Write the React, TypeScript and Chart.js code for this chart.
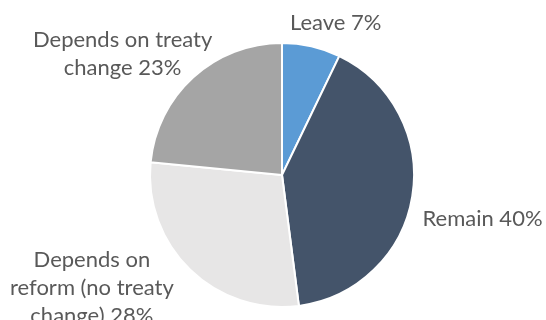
import React, { useEffect, useRef } from "react";
import { Chart, registerables } from "chart.js";

Chart.register(...registerables);

const categories = [
  ["Leave 7%"],
  ["Remain 40%"],
  ["Depends on", "reform (no treaty", "change) 28%"],
  ["Depends on treaty", "change 23%"],
];
const values = [7, 40, 28, 23];
const colors = ["#5B9BD5", "#44546A", "#E7E6E6", "#A5A5A5"];
const labelNudges = [
  [19, 0],
  [46.5, 19],
  [-81.6, 0.8],
  [-54.5, -5.4],
];

const FONT = "22px Lato";
const LINE_H = 28;
const TEXT_COLOR = "#595959";

const labelPlugin = {
  id: "outsideLabels",
  afterDatasetsDraw(chart: any) {
    const ctx = chart.ctx;
    const meta = chart.getDatasetMeta(0);
    ctx.save();
    ctx.font = FONT;
    ctx.fillStyle = TEXT_COLOR;
    ctx.textAlign = "center";
    ctx.textBaseline = "alphabetic";
    meta.data.forEach((arc: any, i: number) => {
      const { x, y, startAngle, endAngle } = arc.getProps(
        ["x", "y", "startAngle", "endAngle"],
        true
      );
      const mid = (startAngle + endAngle) / 2;
      const dist = 131 + 25;
      const cx = x + Math.cos(mid) * dist + labelNudges[i][0];
      const cy = y + Math.sin(mid) * dist + labelNudges[i][1];
      const lines = categories[i];
      const n = lines.length;
      lines.forEach((line: string, j: number) => {
        const by = cy + 7 + (j - (n - 1) / 2) * LINE_H;
        ctx.fillText(line, cx, by);
      });
    });
    ctx.restore();
  },
};

export default function App() {
  const ref = useRef<HTMLCanvasElement>(null);
  useEffect(() => {
    if (!ref.current) return;
    const chart = new Chart(ref.current, {
      type: "pie",
      data: {
        labels: categories.map((l) => l.join(" ")),
        datasets: [
          {
            data: values,
            backgroundColor: colors,
            borderColor: "#FFFFFF",
            borderWidth: 2,
          },
        ],
      },
      options: {
        responsive: false,
        animation: false,
        layout: { padding: { left: 149, right: 131, top: 42, bottom: 12 } },
        plugins: {
          legend: { display: false },
          tooltip: { enabled: false },
          title: { display: false },
        },
      },
      plugins: [labelPlugin],
    });
    return () => chart.destroy();
  }, []);
  return (
    <div style={{ position: "absolute", left: 0, top: 0, width: 546, height: 320, background: "#fff" }}>
      <canvas ref={ref} width={546} height={320} />
    </div>
  );
}
